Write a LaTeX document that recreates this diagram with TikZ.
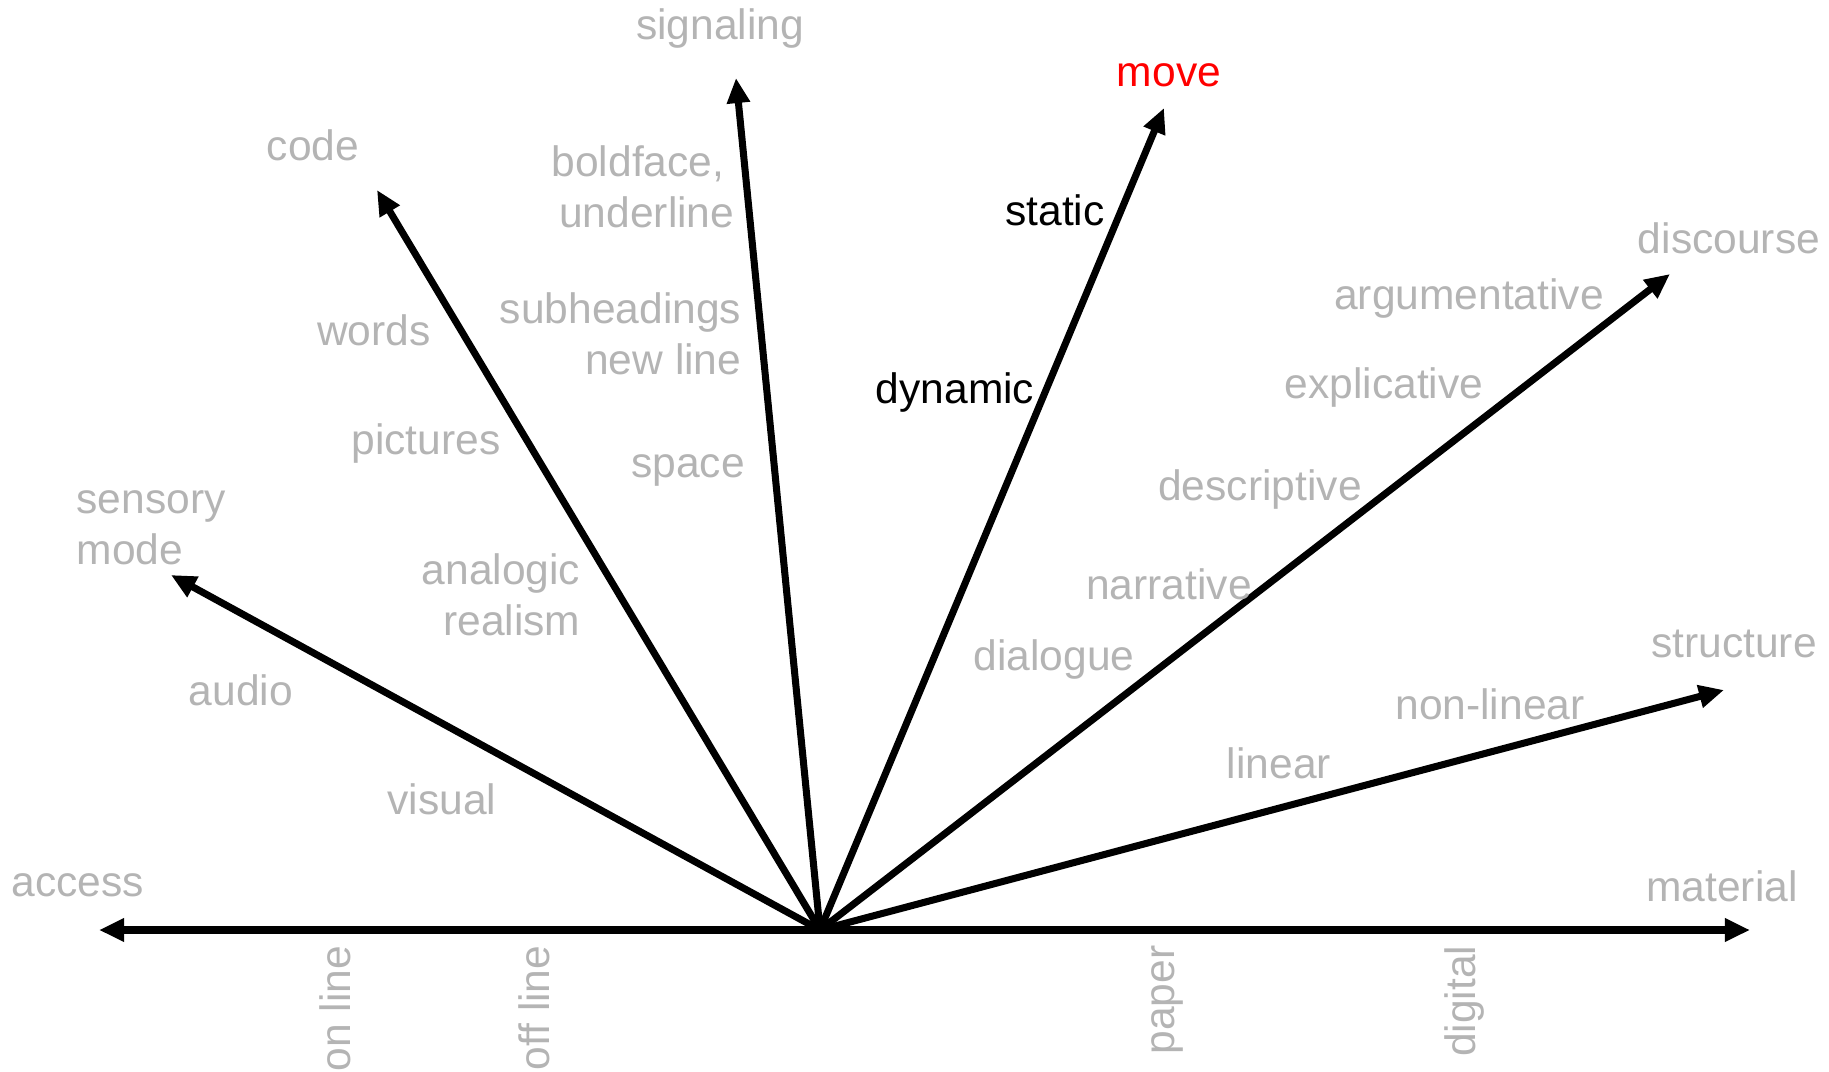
\documentclass[tikz,border=0pt]{standalone}
\usepackage{fontspec}
\setmainfont{Liberation Sans}
\usetikzlibrary{positioning}
\usetikzlibrary{arrows.meta}
\definecolor{lblgray}{RGB}{180,180,180}

\begin{document}
\begin{tikzpicture}[x=0.01cm, y=-0.01cm]
    \tikzstyle{lbl} = [text=lblgray, inner sep=0pt, font=\fontsize{12.1}{14.4}\selectfont];
    \tikzstyle{dark} = [lbl, text=black];
    \tikzstyle{line} = [line width=2pt, -{Triangle[length=0.25cm, width=0.22cm]}];
    \tikzstyle{axis} = [line width=2pt, {Triangle[length=0.25cm, width=0.22cm]}-{Triangle[length=0.25cm, width=0.22cm]}];
    \useasboundingbox (0,0) rectangle (1829,1072);

    % axis ends and arrow tips
    \coordinate (o) at (820,930);
    \coordinate (accT) at (99,930);
    \coordinate (matT) at (1750,930);
    \coordinate (sensT) at (171,575);
    \coordinate (codeT) at (377,190);
    \coordinate (sigT) at (736,78);
    \coordinate (moveT) at (1164,108);
    \coordinate (discT) at (1670,274);
    \coordinate (strT) at (1724,690);

    \draw[axis] (accT) -- (matT);
    \draw[line] (o) -- (sensT);
    \draw[line] (o) -- (codeT);
    \draw[line] (o) -- (sigT);
    \draw[line] (o) -- (moveT);
    \draw[line] (o) -- (discT);
    \draw[line] (o) -- (strT);

    % axis labels
    \node [lbl] (access) at (78,885) {access};
    \node [lbl] (material) at (1722,886) {material};
    \node [lbl, rotate=90, anchor=east] (online) at (335,945) {on line};
    \node [lbl, rotate=90, anchor=east] (offline) at (534,945) {off line};
    \node [lbl, rotate=90, anchor=east] (paper) at (1167,945) {paper};
    \node [lbl, rotate=90, anchor=east] (digital) at (1464,945) {digital};

    % sensory mode
    \node [lbl, align=left, anchor=west] (sens) at (76,528) {sensory\\mode};
    \node [lbl] (audio) at (241,690) {audio};
    \node [lbl] (visual) at (442,799) {visual};

    % code
    \node [lbl] (code) at (313,145) {code};
    \node [lbl] (words) at (374,330) {words};
    \node [lbl] (pictures) at (426,443) {pictures};
    \node [lbl, align=right, anchor=east] (analogic) at (581,595) {analogic\\realism};

    % signaling
    \node [lbl] (signaling) at (720,28) {signaling};
    \node [lbl, align=right, anchor=east] (bold) at (735,187) {boldface,\hspace*{0.1cm}\\underline};
    \node [lbl, align=right, anchor=east] (subhead) at (742,334) {subheadings\\new line};
    \node [lbl] (space) at (688,470) {space};

    % move
    \node [lbl, text=red] (move) at (1169,75) {move};
    \node [dark] (static) at (1055,210) {static};
    \node [dark] (dynamic) at (955,392) {dynamic};

    % discourse
    \node [lbl] (discourse) at (1729,238) {discourse};
    \node [lbl] (argum) at (1469,298) {argumentative};
    \node [lbl] (explic) at (1384,387) {explicative};
    \node [lbl] (descr) at (1260,489) {descriptive};
    \node [lbl] (narr) at (1169,584) {narrative};
    \node [lbl] (dial) at (1054,659) {dialogue};

    % structure
    \node [lbl] (structure) at (1734,644) {structure};
    \node [lbl] (nonlinear) at (1490,704) {non-linear};
    \node [lbl] (linear) at (1279,763) {linear};
\end{tikzpicture}
\end{document}
